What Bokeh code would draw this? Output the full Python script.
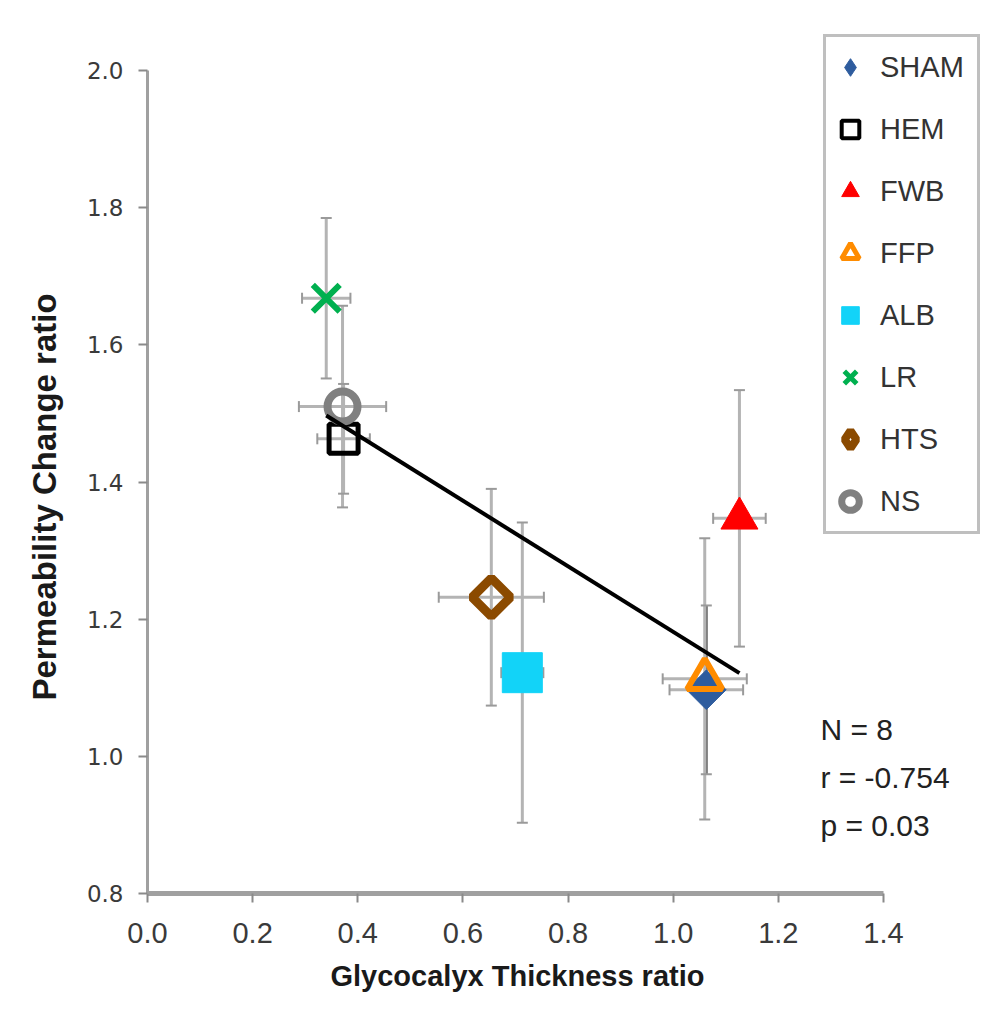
import numpy as np
from bokeh.plotting import figure
from bokeh.models import (ColumnDataSource, Whisker, TeeHead, Legend, LegendItem,
                          Label, FixedTicker, NumeralTickFormatter, Title)
from bokeh.embed import file_html
from bokeh.resources import INLINE

# ---------------- data ----------------
groups = ["SHAM", "HEM", "FWB", "FFP", "ALB", "LR", "HTS", "NS"]
thickness = [1.063, 0.373, 1.126, 1.060, 0.713, 0.340, 0.654, 0.371]
thickness_err = [0.070, 0.050, 0.050, 0.080, 0.040, 0.046, 0.100, 0.083]
permeability = [1.097, 1.463, 1.347, 1.113, 1.122, 1.668, 1.232, 1.510]
permeability_err = [0.123, 0.080, 0.187, 0.205, 0.219, 0.117, 0.158, 0.147]
x_ticks = [0.0, 0.2, 0.4, 0.6, 0.8, 1.0, 1.2, 1.4]
y_ticks = [0.8, 1.0, 1.2, 1.4, 1.6, 1.8, 2.0]
x_title = "Glycocalyx Thickness ratio"
y_title = "Permeability Change ratio"
stats_text = ["N = 8", "r = -0.754", "p = 0.03"]

# ---------------- styles ----------------
styles = {
    "SHAM": dict(marker="square", angle=np.pi / 4, size=28, fill_color="#2E5C9E", line_color="#2E5C9E", line_width=1),
    "HEM":  dict(marker="square", angle=0, size=29, fill_color=None, line_color="#000000", line_width=5),
    "FWB":  dict(marker="triangle", angle=0, size=37, fill_color="#FF0000", line_color="#FF0000", line_width=1),
    "FFP":  dict(marker="triangle", angle=0, size=35, fill_color=None, line_color="#FF8C00", line_width=6),
    "ALB":  dict(marker="square", angle=0, size=40, fill_color="#12D3F8", line_color="#12D3F8", line_width=1),
    "LR":   dict(marker="x", angle=0, size=38, fill_color=None, line_color="#00B04F", line_width=6),
    "HTS":  dict(marker="square", angle=np.pi / 4, size=27, fill_color=None, line_color="#8B4A00", line_width=9),
    "NS":   dict(marker="circle", angle=0, size=30, fill_color=None, line_color="#808080", line_width=8),
}
legend_styles = {
    "SHAM": dict(marker="diamond", fill_color="#2E5C9E", line_color="#2E5C9E", line_width=1),
    "HEM":  dict(marker="square", fill_color="white", line_color="#000000", line_width=4),
    "FWB":  dict(marker="triangle", fill_color="#FF0000", line_color="#FF0000", line_width=1),
    "FFP":  dict(marker="triangle", fill_color="white", line_color="#FF8C00", line_width=5),
    "ALB":  dict(marker="square", fill_color="#12D3F8", line_color="#12D3F8", line_width=1),
    "LR":   dict(marker="x", fill_color=None, line_color="#00B04F", line_width=5),
    "HTS":  dict(marker="diamond", fill_color="white", line_color="#8B4A00", line_width=8),
    "NS":   dict(marker="circle", fill_color="white", line_color="#808080", line_width=7),
}

# ---------------- layout ----------------
PX_X = 525.7          # pixels per x unit
PX_Y = 685.8          # pixels per y unit
FRAME_W, FRAME_H = 843, 885
LEFT, TOP, BOTTOM = 147, 8, 124
W, H = LEFT + FRAME_W, TOP + FRAME_H + BOTTOM
x_end = FRAME_W / PX_X
y_start = 0.8
y_end = y_start + FRAME_H / PX_Y

p = figure(width=W, height=H, frame_width=FRAME_W, frame_height=FRAME_H,
           x_range=(0, x_end), y_range=(y_start, y_end),
           output_backend="svg", toolbar_location=None,
           min_border_left=LEFT, min_border_right=0, min_border_top=TOP, min_border_bottom=BOTTOM)
p.grid.visible = False
p.outline_line_color = None
p.background_fill_color = "white"
p.border_fill_color = "white"

# ---------------- error bars ----------------
x = np.array(thickness)
y = np.array(permeability)
xe = np.array(thickness_err)
ye = np.array(permeability_err)
bar_colors = ["#707070" if g == "SHAM" else "#B4B4B4" for g in groups]
src = ColumnDataSource(dict(x=x, y=y, xl=x - xe, xu=x + xe, yl=y - ye, yu=y + ye,
                            bc=bar_colors, group=groups))

def head():
    return TeeHead(size=11, line_color="#9A9A9A", line_width=2)

wy = Whisker(source=src, base="x", lower="yl", upper="yu", dimension="height",
             line_color="bc", line_width=3, upper_head=head(), lower_head=head())
wx = Whisker(source=src, base="y", lower="xl", upper="xu", dimension="width",
             line_color="#B4B4B4", line_width=3, upper_head=head(), lower_head=head())
p.add_layout(wy)
p.add_layout(wx)

# ---------------- markers ----------------
items = []
for i, g in enumerate(groups):
    s = styles[g]
    gsrc = ColumnDataSource(dict(x=[thickness[i]], y=[permeability[i]]))
    p.scatter("x", "y", source=gsrc, marker=s["marker"], angle=s["angle"], size=s["size"],
              fill_color=s["fill_color"], line_color=s["line_color"], line_width=s["line_width"])
    ls = legend_styles[g]
    proxy = p.scatter("x", "y", source=gsrc, marker=ls["marker"], size=10,
                      fill_color=ls["fill_color"], line_color=ls["line_color"],
                      line_width=ls["line_width"], visible=False)
    items.append(LegendItem(label=g, renderers=[proxy]))

# ---------------- regression line ----------------
slope, intercept = np.polyfit(x, y, 1)
xf = np.array([x.min(), x.max()])
p.line(xf, slope * xf + intercept, line_color="black", line_width=4)

# ---------------- axes ----------------
for ax in (p.xaxis[0], p.yaxis[0]):
    ax.axis_line_color = "#A0A0A0"
    ax.major_tick_line_color = "#8A8A8A"
    ax.major_tick_line_width = 2
    ax.major_tick_in = 0
    ax.minor_tick_line_color = None
    ax.major_label_text_color = "#3A3A3A"

p.xaxis.bounds = (x_ticks[0], x_ticks[-1])
p.xaxis.ticker = FixedTicker(ticks=x_ticks)
p.xaxis.formatter = NumeralTickFormatter(format="0.0")
p.xaxis.axis_line_width = 5
p.xaxis.major_tick_out = 9
p.xaxis.major_label_standoff = 20
p.xaxis.major_label_text_font = "Liberation Sans"
p.xaxis.major_label_text_font_size = "29px"

p.yaxis.bounds = (y_ticks[0], y_ticks[-1])
p.yaxis.ticker = FixedTicker(ticks=y_ticks)
p.yaxis.formatter = NumeralTickFormatter(format="0.0")
p.yaxis.axis_line_width = 3
p.yaxis.major_tick_out = 9
p.yaxis.major_label_standoff = 15
p.yaxis.major_label_text_font = "DejaVu Sans"
p.yaxis.major_label_text_font_size = "23px"

# axis titles as side titles, aligned to the drawn axis extents
p.add_layout(Title(text=x_title, align="left", offset=183, standoff=24,
                   text_font="Liberation Sans", text_font_style="bold", text_font_size="29px",
                   text_color="#1A1A1A"), "below")
p.add_layout(Title(text=y_title, align="left", offset=193, standoff=42,
                   text_font="Liberation Sans", text_font_style="bold", text_font_size="33px",
                   text_color="#1A1A1A"), "left")

# ---------------- legend ----------------
legend = Legend(items=items, location=(676, 359), margin=0, padding=2,
                glyph_width=44, glyph_height=56, label_height=56, spacing=6,
                label_width=95, label_standoff=8, label_text_font="Liberation Sans",
                label_text_font_size="29px", label_text_color="#333333",
                border_line_color="#7F7F7F", border_line_width=3,
                background_fill_color="white", background_fill_alpha=1,
                click_policy="none")
p.add_layout(legend, "center")

# ---------------- statistics text ----------------
stats_x = 1.280
stats_y = [1.039, 0.969, 0.899]
for t, yy in zip(stats_text, stats_y):
    p.add_layout(Label(x=stats_x, y=yy, text=t, text_font="Liberation Sans",
                       text_font_size="30px", text_color="#222222", text_baseline="middle"))

open("out.html", "w").write(file_html(p, INLINE))
